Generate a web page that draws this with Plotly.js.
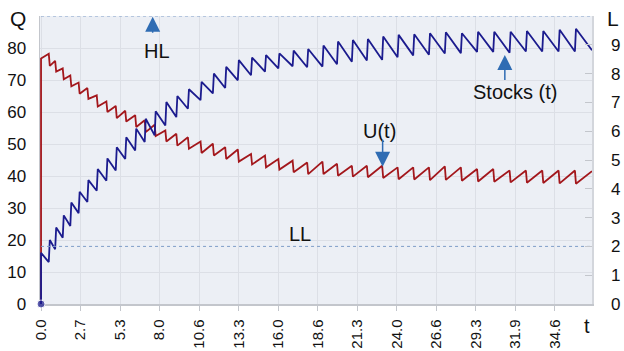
<!DOCTYPE html>
<html>
<head>
<meta charset="utf-8">
<script src="https://cdn.plot.ly/plotly-3.0.1.min.js"></script>
<style>html,body{margin:0;padding:0;background:#fff;}#chart{width:624px;height:351px;}</style>
</head>
<body>
<div id="chart"></div>
<script>
// ---- data ----
// replenishment event times (t)
const eventT = [0.52, 0.95, 1.46, 1.97, 2.53, 3.12, 3.75, 4.40, 5.03, 5.67,
  6.34, 6.98, 7.65, 8.37, 9.11, 9.89, 10.74, 11.57, 12.40, 13.25,
  14.14, 15.08, 15.98, 16.94, 17.92, 18.95, 19.93, 20.93, 21.94, 22.97,
  24.01, 25.06, 26.12, 27.19, 28.27, 29.36, 30.45, 31.55, 32.65, 33.75,
  34.85, 35.95];
// Stocks (t): value just before and just after each event (Q)
const stockBefore = [13.1, 17.1, 20.7, 24.4, 28.4, 31.9, 35.4, 38.5, 41.7, 45.3,
  48.0, 50.6, 52.7, 55.8, 58.4, 61.0, 63.7, 65.8, 67.5, 69.9,
  71.5, 72.6, 73.6, 74.3, 74.0, 74.2, 74.9, 75.7, 76.1, 76.3,
  77.1, 77.7, 77.9, 78.3, 78.4, 78.8, 78.8, 78.5, 78.9, 78.9, 78.9, 78.9];
const stockAfter = [20.0, 23.9, 27.7, 31.7, 35.1, 38.7, 42.2, 45.5, 49.0, 52.1,
  54.8, 57.9, 60.2, 63.1, 65.0, 67.1, 69.4, 72.0, 74.1, 76.2,
  77.0, 77.8, 78.3, 79.2, 79.7, 80.8, 82.0, 82.5, 82.8, 83.6,
  84.1, 84.3, 84.6, 84.9, 84.6, 85.1, 85.1, 85.1, 85.3, 85.3, 85.7, 86.0];
const stockStart = [0, 16.0];
const stockEnd = 79.3;
// U(t): value just before and just after each event (Q)
const uBefore = [78.2, 76.0, 73.6, 71.4, 69.2, 67.5, 65.2, 63.3, 61.9, 60.4,
  59.0, 57.4, 56.0, 54.2, 53.2, 52.1, 50.8, 50.1, 49.0, 48.3,
  46.9, 46.4, 45.3, 44.8, 44.2, 44.5, 43.8, 43.2, 43.2, 43.2,
  42.7, 42.7, 42.7, 43.0, 42.7, 42.2, 42.2, 41.7, 41.7, 41.7, 41.7, 41.7];
const uAfter = [74.4, 72.6, 70.2, 68.0, 65.7, 64.1, 61.7, 60.0, 58.1, 57.0,
  55.3, 53.7, 52.5, 50.8, 49.5, 48.5, 47.2, 46.4, 45.3, 44.5,
  43.6, 42.7, 42.0, 41.2, 40.6, 40.6, 40.1, 39.8, 39.6, 39.4,
  39.0, 38.9, 38.7, 38.8, 38.5, 38.3, 38.2, 38.0, 37.9, 37.8, 37.7, 37.6];
const uStart = [0, 76.7];
const uEnd = 41.5;
const tEnd = 37.1;
// levels (L axis)
const levelHL = 10;
const levelLL = 2;
// ticks
const xTickVals = [0, 2.6615, 5.323, 7.9845, 10.646, 13.3075, 15.969, 18.6305,
  21.292, 23.9535, 26.615, 29.2765, 31.938, 34.5995];
const xTickText = ['0.0','2.7','5.3','8.0','10.6','13.3','16.0','18.6','21.3','24.0','26.6','29.3','31.9','34.6'];
const qTicks = [0,10,20,30,40,50,60,70,80];
const lTicks = [0,1,2,3,4,5,6,7,8,9];

// ---- build sawtooth paths ----
const JUMP = 0.07;
function buildPath(start, before, after, endVal) {
  const x = [0, 0], y = [start[0], start[1]];
  for (let i = 0; i < eventT.length; i++) {
    x.push(eventT[i]); y.push(before[i]);
    x.push(eventT[i] + JUMP); y.push(after[i]);
  }
  x.push(tEnd); y.push(endVal);
  return {x, y};
}
const stock = buildPath(stockStart, stockBefore, stockAfter, stockEnd);
const u = buildPath(uStart, uBefore, uAfter, uEnd);
const stockMarkerSize = stock.x.map((v, i) => i === 0 ? 8 : 0);

const FONT = 'Liberation Sans, Arial, Helvetica, sans-serif';
const arrowColor = '#2f6cb3';

const traces = [
  {x: [0, tEnd], y: [levelHL, levelHL], yaxis: 'y2', mode: 'lines',
   line: {color: '#7f9dc8', width: 1, dash: 'dot'}, hoverinfo: 'skip'},
  {x: [0, tEnd], y: [levelLL, levelLL], yaxis: 'y2', mode: 'lines',
   line: {color: '#7f9dc8', width: 1, dash: 'dot'}, hoverinfo: 'skip'},
  {x: u.x, y: u.y, mode: 'lines', line: {color: '#a3171c', width: 1.8}},
  {x: stock.x, y: stock.y, mode: 'lines+markers', line: {color: '#1b1b8e', width: 1.8},
   marker: {size: stockMarkerSize, color: '#1b1b8e'}, cliponaxis: false}
];

function arrow(xp, yTip, yTail) {
  return {xref: 'paper', yref: 'paper', x: xp, y: yTip, text: ' ', font: {size: 1},
    showarrow: true, arrowhead: 2, arrowsize: 2.0, arrowwidth: 1.5, arrowcolor: arrowColor,
    ax: 0, ay: yTail, standoff: 0, startstandoff: 0};
}
function label(txt, xp, yp, size) {
  return {xref: 'paper', yref: 'paper', x: xp, y: yp, text: txt, showarrow: false,
    xanchor: 'center', yanchor: 'middle', font: {family: FONT, size: size, color: '#111'}};
}

const layout = {
  width: 624, height: 351,
  margin: {l: 40, r: 32, t: 16, b: 47, pad: 0},
  paper_bgcolor: '#ffffff', plot_bgcolor: '#eceff5',
  showlegend: false,
  font: {family: FONT, color: '#111'},
  xaxis: {range: [-0.07, tEnd], tickvals: xTickVals, ticktext: xTickText, tickangle: -90,
    ticks: 'outside', ticklen: 5, tickcolor: '#c3c6cc', showline: true, linecolor: '#c3c6cc', linewidth: 1.5,
    showgrid: true, gridcolor: '#dcdfe6', zeroline: false, ticklabelstandoff: 3, layer: 'below traces',
    tickfont: {family: FONT, size: 15, color: '#111'}},
  yaxis: {range: [0, 90], tickvals: qTicks, ticks: '', showline: true, linecolor: '#c3c6cc', linewidth: 1.5,
    showgrid: true, gridcolor: '#dcdfe6', zeroline: false, ticklabelstandoff: 9, layer: 'below traces',
    tickfont: {family: FONT, size: 17, color: '#111'}},
  yaxis2: {range: [0, 10], overlaying: 'y', side: 'right', tickvals: lTicks,
    ticks: 'inside', ticklen: 7, tickcolor: '#c3c6cc', showline: true, linecolor: '#d3d6dc', linewidth: 1.5,
    showgrid: false, zeroline: false, ticklabelstandoff: 14,
    tickfont: {family: FONT, size: 17, color: '#111'}},
  annotations: [
    label('Q', -0.040, 0.99, 21),
    label('L', 1.038, 0.992, 21),
    label('t', 0.991, -0.075, 20),
    label('HL', 0.2123, 0.8786, 20),
    label('LL', 0.4719, 0.2421, 20),
    label('U(t)', 0.6152, 0.599, 20),
    label('Stocks (t)', 0.860, 0.7374, 20),
    arrow(0.2041, 0.9976, 18),
    arrow(0.6207, 0.4762, -29),
    arrow(0.8421, 0.8647, 27)
  ]
};

Plotly.newPlot('chart', traces, layout, {staticPlot: true, displayModeBar: false});
</script>
</body>
</html>
